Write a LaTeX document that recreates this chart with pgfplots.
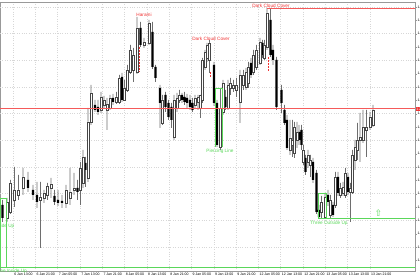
\documentclass[border=0pt]{standalone}
\usepackage{pgfplots}
\pgfplotsset{compat=1.18}
\usepackage{pgfplotstable}
\usepackage{fontspec}
\setmainfont{Liberation Sans}
\newfontfamily\dejavu{DejaVu Sans}
\definecolor{wickc}{RGB}{110,110,110}
\definecolor{bodyc}{RGB}{70,70,70}
\definecolor{annred}{RGB}{240,50,50}
\definecolor{lvlred}{RGB}{245,90,90}
\definecolor{anngreen}{RGB}{90,215,90}
\definecolor{gridc}{RGB}{215,215,215}

% candles: x position, open, high, low, close (chart rows, top = 0)
\pgfplotstableread{
x o h l c
2.5 205 200 222 218
7 218 198 222 202
10.5 212 180 214 183
14.5 200 167 207 190
18.5 195 175 200 190
23 188 168 195 177
28 180 172 192 188
33 190 185 200 195
37 195 182 208 202
40.5 200 182 248 197
44 198 190 203 193
47.5 195 183 200 186
51 188 178 198 184
54.5 196 190 205 202
58 200 190 206 203
62 201 195 208 203
66 203 185 208 190
70 198 168 205 192
74 190 173 195 188
77.5 188 180 200 192
80.5 190 162 205 168
83 183 150 188 157
85.5 163 157 187 170
88 178 108 182 122
91 122 85 125 93
95 105 100 112 110
98 107 100 115 112
101 110 92 113 97
104 105 96 108 100
107 110 98 130 104
110 108 95 110 98
113 98 94 105 102
116.5 102 92 104 97
119.5 102 75 104 78
122 77 73 102 100
124.5 100 80 101 88
127.5 90 65 92 70
130.5 72 45 74 50
133.5 70 48 82 55
137 72 17 74 28
140.5 28 22 47 45
144 45 38 48 42
149 43 20 45 23
152.5 32 22 69 67
155.5 67 65 82 78
160 88 85 128 103
162.5 123 95 125 100
165.5 95 92 112 107
168.5 103 100 120 117
171.5 107 103 128 120
174 137 95 140 100
177 108 93 112 98
179.5 100 90 103 95
182 95 93 103 100
184.5 97 92 105 102
187 98 94 108 103
190 100 95 110 107
192.5 103 98 112 110
195 105 95 108 98
198 102 95 110 97
200.5 108 95 118 95
202.5 100 58 103 60
205 67 50 70 52
207 58 43 62 45
209.5 60 40 73 43
214 65 62 106 103
217 103 100 147 145
220.5 147 88 150 108
223 112 80 115 83
225.5 97 90 110 107
228 108 80 110 85
230.5 88 78 95 83
233.5 88 80 92 85
236.5 90 78 97 85
240 102 70 123 75
243.5 85 70 90 75
246 87 68 90 72
248.5 83 62 88 67
251 63 58 78 75
253.5 72 50 75 55
256.5 67 45 70 50
260 63 38 65 42
262.5 43 40 58 55
264.5 58 40 60 45
267 47 8 50 13
270.5 20 9 57 55
273 50 45 65 60
276.5 60 57 110 107
281.5 90 85 113 103
284.5 110 105 125 123
287 120 115 150 148
290 150 120 155 138
292.5 145 120 157 140
294.5 153 122 158 127
297 140 122 148 132
299 132 125 145 140
301.5 130 125 150 145
303.5 162 145 165 150
305.5 158 155 175 172
308 162 150 168 155
310.5 165 155 177 160
313 162 158 183 180
316.5 173 170 214 212
319 210 205 219 217
321.5 212 196 219 202
325 217 193 219 197
328 195 190 206 202
330.5 215 195 218 200
333 205 202 217 215
335.5 205 172 208 177
338 177 172 196 193
340.5 195 183 198 188
343 193 182 196 187
345.5 195 168 198 173
348 177 173 195 192
350.5 192 183 222 188
352.5 192 150 194 155
355 160 140 170 147
357.5 150 123 160 140
360 140 113 162 137
363 140 110 143 127
366.5 130 110 157 127
370 127 112 130 117
373 125 105 127 110
}\candles

\pgfplotsset{candleaxis/.style={
  at={(0pt,9pt)}, anchor=south west,
  width=415pt, height=269pt, scale only axis,
  xmin=0, xmax=415, ymin=2, ymax=271, y dir=reverse}}

\begin{document}
\begin{tikzpicture}[x=1pt,y=1pt]
% frame, grid and ticks
\begin{axis}[
  candleaxis,
  clip=false,
  axis line style={gray!80, line width=0.4pt},
  tick align=outside,
  major tick length=1.5pt,
  tick style={gray!80, line width=0.3pt},
  xtick pos=bottom, ytick pos=right,
  yticklabel pos=right,
  xtick={-9.3,13,35.3,57.6,80,102.2,124.5,146.8,169,191.4,213.7,236,258.3,280.6,303,325.2,347.5,369.8},
  xticklabels={6 Jan 05:00,6 Jan 13:00,6 Jan 21:00,7 Jan 05:00,7 Jan 13:00,7 Jan 21:00,8 Jan 05:00,8 Jan 13:00,8 Jan 21:00,9 Jan 05:00,9 Jan 13:00,9 Jan 21:00,12 Jan 05:00,12 Jan 13:00,12 Jan 21:00,13 Jan 05:00,13 Jan 13:00,13 Jan 21:00},
  xticklabel style={anchor=north west, xshift=0.3pt, inner sep=0.8pt, font=\fontsize{3.5}{4}\selectfont},
  ytick={7,20.33,33.67,47,60.33,73.67,87,100.33,113.67,127,140.33,153.67,167,180.33,193.67,207,220.33,233.67,247,260.33},
  yticklabels={1.2095,1.2090,1.2085,1.2080,1.2075,1.2070,1.2065,1.2060,1.2055,1.2050,1.2045,1.2040,1.2035,1.2030,1.2025,1.2020,1.2015,1.2010,1.2005,1.2000},
  yticklabel style={anchor=west, inner sep=0.8pt, font=\fontsize{3.5}{4}\selectfont},
  xmajorgrids,
  extra y ticks={7,33.67,60.33,87,113.67,140.33,167,193.67,220.33,247},
  extra y tick labels={},
  extra y tick style={grid=major, major tick length=0pt},
  grid style={gridc, dotted, line width=0.35pt},
]
\addplot[draw=none] coordinates {(0,2) (415,271)};
\end{axis}
% wicks: high to low
\begin{axis}[candleaxis, hide axis, ybar stacked, bar width=0.55pt]
\addplot[draw=none, fill=none] table[x=x, y=h] {\candles};
\addplot[draw=none, fill=wickc] table[x=x, y expr=\thisrow{l}-\thisrow{h}] {\candles};
\end{axis}
% bodies: rising candles white, falling candles black
\begin{axis}[candleaxis, hide axis, ybar stacked, bar width=2.3pt]
\addplot[draw=none, fill=none] table[x=x, y expr={min(\thisrow{o},\thisrow{c})}] {\candles};
\addplot[draw=bodyc, fill=white, line width=0.4pt] table[x=x, y expr={max(\thisrow{o}-\thisrow{c},0)}] {\candles};
\addplot[draw=none, fill=black] table[x=x, y expr={max(\thisrow{c}-\thisrow{o},0)}] {\candles};
\end{axis}
% pattern objects on top of the chart
\begin{axis}[candleaxis, hide axis, clip=false]
\addplot[draw=anngreen, line width=0.5pt] coordinates {(0.5,267) (0.5,198) (6.5,198) (6.5,267)};
\addplot[draw=anngreen, line width=0.5pt] coordinates {(215.5,147) (215.5,88) (222,88) (222,147)};
\addplot[draw=anngreen, line width=0.5pt] coordinates {(318,219) (318,193) (326.5,193) (326.5,219)};
\addplot[draw=annred, densely dotted, line width=0.5pt] coordinates {(139.5,47) (139.5,72)};
\addplot[draw=annred, densely dotted, line width=0.5pt] coordinates {(210,72) (210,77)};
\addplot[draw=annred, densely dotted, line width=0.5pt] coordinates {(268,57) (268,72)};
\addplot[draw=lvlred, line width=1pt] coordinates {(0,109) (415,109)};
\addplot[draw=lvlred, line width=1pt] coordinates {(267,9) (415,9)};
\addplot[draw=anngreen, line width=1pt] coordinates {(0,267) (415,267)};
\addplot[draw=anngreen, line width=1pt] coordinates {(318,219) (415,219)};
\node[font=\fontsize{4.7}{5}\selectfont, text=annred] at (axis cs:144,15) {Harami};
\node[font=\fontsize{4.7}{5}\selectfont, text=annred] at (axis cs:211,39) {Dark Cloud Cover};
\node[font=\fontsize{4.7}{5}\selectfont, text=annred] at (axis cs:271,5.5) {Dark Cloud Cover};
\node[font=\fontsize{4.7}{5}\selectfont, text=anngreen] at (axis cs:220,151) {Piercing Line};
\node[font=\fontsize{4.7}{5}\selectfont, text=anngreen] at (axis cs:329,223.5) {Three Outside Up};
\node[font=\fontsize{4.7}{5}\selectfont, text=anngreen, anchor=east, inner sep=0pt] at (axis cs:14.5,226) {Three Outside Up};
\node[font=\fontsize{4.7}{5}\selectfont, text=anngreen, anchor=east, inner sep=0pt] at (axis cs:27,271) {Three Inside Up};
\node[font=\dejavu\fontsize{9}{9}\selectfont, text=anngreen, inner sep=0pt] at (axis cs:378.5,213) {⇧};
\node[fill=annred, text=white, anchor=west, inner sep=0.6pt, font=\fontsize{3.5}{4}\selectfont] at (axis cs:415.5,109) {1.2053};
\end{axis}
\pgfresetboundingbox
\useasboundingbox (0,0) rectangle (420,280);
\end{tikzpicture}
\end{document}
